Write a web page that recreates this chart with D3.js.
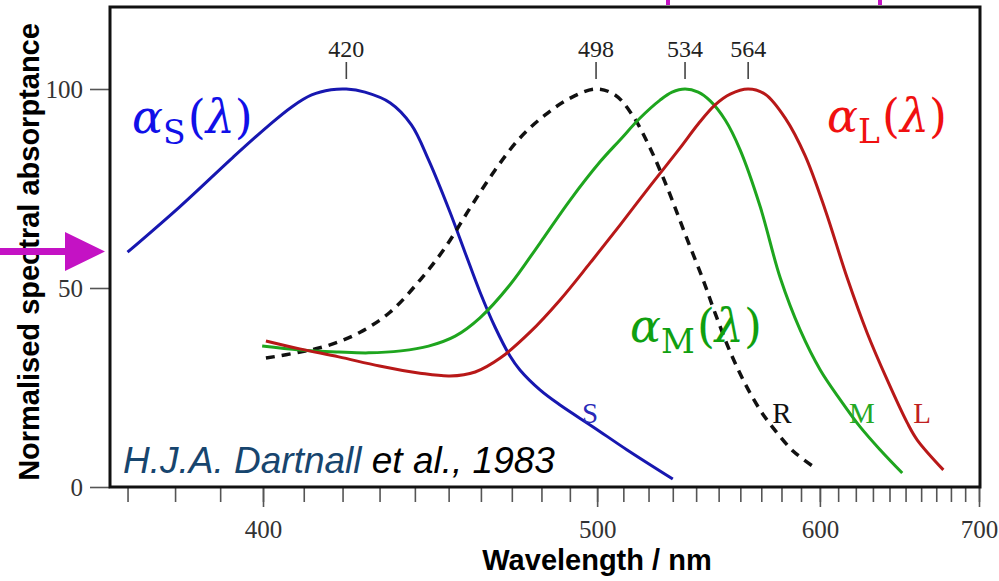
<!DOCTYPE html>
<html>
<head>
<meta charset="utf-8">
<script src="https://cdn.jsdelivr.net/npm/d3@7"></script>
<style>
  body { margin: 0; background: #fff; }
  svg { display: block; }
</style>
</head>
<body>
<div id="chart-area"></div>
<script>
// wavelength (nm) and normalised absorptance
const sLambda = [370, 381, 393, 401, 407, 412, 417, 421, 426, 433, 439, 444, 450.4, 455, 459.7, 464.5, 469.4, 472.7, 479.5, 486.5, 498.5, 511.5, 530];
const sValues = [59, 70.4, 82.9, 90.5, 95.5, 98.5, 99.8, 100, 99.2, 96.5, 91, 82.2, 69.1, 59, 49, 40.2, 32.9, 29.4, 24.4, 20.6, 15.1, 9.3, 2];

const rLambda = [400.7, 409.1, 416.7, 424.7, 432.9, 441.5, 448.9, 456.6, 464.5, 472.7, 481.3, 490.1, 499.6, 506.8, 513.5, 520.6, 528.1, 535.2, 543.1, 548.4, 555.3, 562.3, 569.5, 575.9, 586, 597.5];
const rValues = [32.4, 33.9, 35.7, 38.9, 43.9, 52, 60.1, 70.1, 79.6, 87.7, 93.5, 97.7, 100, 98.5, 93.5, 85.2, 74.6, 63.6, 52, 43.7, 33.9, 25.9, 19.3, 14.8, 9, 4.8];

const mLambda = [399.8, 409, 419, 427, 436, 444, 452, 459.7, 469.4, 479.5, 490.1, 501.1, 508.7, 516.6, 524.7, 529.7, 535.2, 540.9, 546.2, 553, 559.9, 569.5, 579.4, 589.6, 600.2, 611.2, 622.5, 634.4, 647.9];
const mValues = [35.4, 34.4, 33.9, 33.7, 34.2, 35.4, 37.9, 42.5, 50.8, 61.3, 72.1, 81.7, 87.2, 92.7, 97.2, 99.2, 100, 99.2, 97, 92.2, 84.7, 70.4, 52.5, 39.4, 29.4, 21.9, 15.1, 9.3, 3.5];

const lLambda = [400.7, 409, 419, 430, 441.5, 450.4, 458.2, 466.2, 476.1, 486.5, 497.4, 508.7, 520.6, 533.1, 540.9, 548.4, 555.3, 563.7, 571.9, 581.9, 592.2, 602.9, 615.1, 626.6, 638.6, 651.1, 657.5, 674.8];
const lValues = [36.7, 34.7, 32.7, 30.4, 28.6, 27.9, 28.9, 32.4, 38.9, 47, 56.3, 65.8, 75.6, 85.2, 91.2, 96, 98.7, 100, 98.7, 92.7, 83.2, 69.6, 52.5, 38.7, 26.9, 16.1, 11.8, 4.3];

const peakLabels = ["420", "498", "534", "564"];
const majorTicks = [400, 500, 600, 700];
const minorTicks = d3.range(370, 701, 10);
const yTicks = [0, 50, 100];

const width = 999, height = 581;
const frame = { left: 110, right: 980, top: 7, bottom: 487 };

const svg = d3.select("#chart-area").append("svg")
    .attr("width", width)
    .attr("height", height);

// the wavelength axis is linear in wavenumber (1/lambda)
const xInv = d3.scaleLinear().domain([1 / 400, 1 / 700]).range([263, 979]);
const x = lam => xInv(1 / lam);
const y = d3.scaleLinear().domain([0, 100]).range([487, 89]);

// x axis: minor ticks every 10 nm, labelled majors every 100 nm
svg.append("g")
    .attr("transform", `translate(0,${frame.bottom})`)
    .call(d3.axisBottom(xInv).tickValues(minorTicks.map(d => 1 / d)).tickSize(15).tickFormat(""))
    .call(g => g.select(".domain").remove());

const xMajor = svg.append("g")
    .attr("transform", `translate(0,${frame.bottom})`)
    .call(d3.axisBottom(xInv).tickValues(majorTicks.map(d => 1 / d)).tickSize(20).tickPadding(13)
        .tickFormat(d => Math.round(1 / d)))
    .call(g => g.select(".domain").remove());
xMajor.selectAll("text")
    .attr("font-family", "'Liberation Serif', serif")
    .attr("font-size", 25)
    .attr("fill", "#333");

const yAxis = svg.append("g")
    .attr("transform", `translate(${frame.left},0)`)
    .call(d3.axisLeft(y).tickValues(yTicks).tickSize(20).tickPadding(7))
    .call(g => g.select(".domain").remove());
yAxis.selectAll("text")
    .attr("font-family", "'Liberation Serif', serif")
    .attr("font-size", 25)
    .attr("fill", "#333");

svg.selectAll(".tick line")
    .attr("stroke", "#555")
    .attr("stroke-width", 1.6);

// curves
const series = [
    { name: "S", lam: sLambda, val: sValues, color: "#1717b0", dash: null },
    { name: "R", lam: rLambda, val: rValues, color: "#111", dash: "9,7" },
    { name: "M", lam: mLambda, val: mValues, color: "#1ea51e", dash: null },
    { name: "L", lam: lLambda, val: lValues, color: "#b81818", dash: null }
];

const line = d3.line()
    .x(d => x(d[0]))
    .y(d => y(d[1]))
    .curve(d3.curveCatmullRom.alpha(0.5));

svg.selectAll("path.curve")
    .data(series)
    .enter().append("path")
    .attr("class", "curve")
    .attr("d", s => line(s.lam.map((l, i) => [l, s.val[i]])))
    .attr("fill", "none")
    .attr("stroke", s => s.color)
    .attr("stroke-width", s => s.dash ? 3.5 : 3)
    .attr("stroke-dasharray", s => s.dash);

// peak markers
const peaks = series.map((s, i) => {
    const k = d3.maxIndex(s.val);
    return { lam: s.lam[k], label: peakLabels[i] };
});
svg.selectAll("line.peak")
    .data(peaks)
    .enter().append("line")
    .attr("class", "peak")
    .attr("x1", d => x(d.lam)).attr("x2", d => x(d.lam))
    .attr("y1", 62).attr("y2", 79)
    .attr("stroke", "#444")
    .attr("stroke-width", 1.6);
svg.selectAll("text.peak")
    .data(peaks)
    .enter().append("text")
    .attr("class", "peak")
    .attr("x", d => x(d.lam))
    .attr("y", 57)
    .attr("text-anchor", "middle")
    .attr("font-family", "'Liberation Serif', serif")
    .attr("font-size", 24)
    .attr("fill", "#222")
    .text(d => d.label);

// small curve labels
const curveLabels = [
    { t: "S", x: 590, color: "#2a2ab8" },
    { t: "R", x: 782, color: "#111" },
    { t: "M", x: 862, color: "#25a825" },
    { t: "L", x: 922, color: "#c02020" }
];
svg.selectAll("text.clabel")
    .data(curveLabels)
    .enter().append("text")
    .attr("class", "clabel")
    .attr("x", d => d.x)
    .attr("y", 423)
    .attr("text-anchor", "middle")
    .attr("font-family", "'Liberation Serif', serif")
    .attr("font-size", 29)
    .attr("fill", d => d.color)
    .text(d => d.t);

// alpha_X(lambda) labels
const mathLabels = [
    { sub: "S", x: 132, y: 133, color: "#1010e8" },
    { sub: "L", x: 827, y: 132, color: "#f01010" },
    { sub: "M", x: 630, y: 342, color: "#10a010" }
];
mathLabels.forEach(m => {
    const t = svg.append("text")
        .attr("x", m.x).attr("y", m.y)
        .attr("font-family", "'DejaVu Serif', serif")
        .attr("font-size", 46)
        .attr("fill", m.color);
    t.append("tspan").attr("font-style", "italic").text("α");
    t.append("tspan").attr("font-size", 33).attr("dy", 11).text(m.sub);
    t.append("tspan").attr("dy", -11).attr("dx", 2).text("(");
    t.append("tspan").attr("font-style", "italic").text("λ");
    t.append("tspan").text(")");
});

// citation
const cite = svg.append("text")
    .attr("x", 123).attr("y", 473)
    .attr("font-family", "'Liberation Sans', Arial, sans-serif")
    .attr("font-style", "italic")
    .attr("font-size", 37);
cite.append("tspan").attr("fill", "#17456e").text("H.J.A. Dartnall");
cite.append("tspan").attr("fill", "#000").text(" et al., 1983");

// frame
svg.append("rect")
    .attr("x", frame.left).attr("y", frame.top)
    .attr("width", frame.right - frame.left)
    .attr("height", frame.bottom - frame.top)
    .attr("fill", "none")
    .attr("stroke", "#111")
    .attr("stroke-width", 3);

// axis titles
svg.append("text")
    .attr("x", 597).attr("y", 570)
    .attr("text-anchor", "middle")
    .attr("font-family", "'Liberation Sans', Arial, sans-serif")
    .attr("font-weight", "bold")
    .attr("font-size", 29)
    .text("Wavelength / nm");

svg.append("text")
    .attr("transform", "translate(39,252) rotate(-90)")
    .attr("text-anchor", "middle")
    .attr("font-family", "'Liberation Sans', Arial, sans-serif")
    .attr("font-weight", "bold")
    .attr("font-size", 29)
    .text("Normalised spectral absorptance");

// magenta pointer on the left and the cut-off marks at the top
svg.append("path")
    .attr("d", "M0,248 L65,248 L65,232 L105,251.5 L65,271 L65,255 L0,255 Z")
    .attr("fill", "#c412c4");
svg.selectAll("rect.mark")
    .data([668, 880])
    .enter().append("rect")
    .attr("class", "mark")
    .attr("x", d => d - 2).attr("y", 0)
    .attr("width", 4).attr("height", 5)
    .attr("fill", "#c412c4");
</script>
</body>
</html>
